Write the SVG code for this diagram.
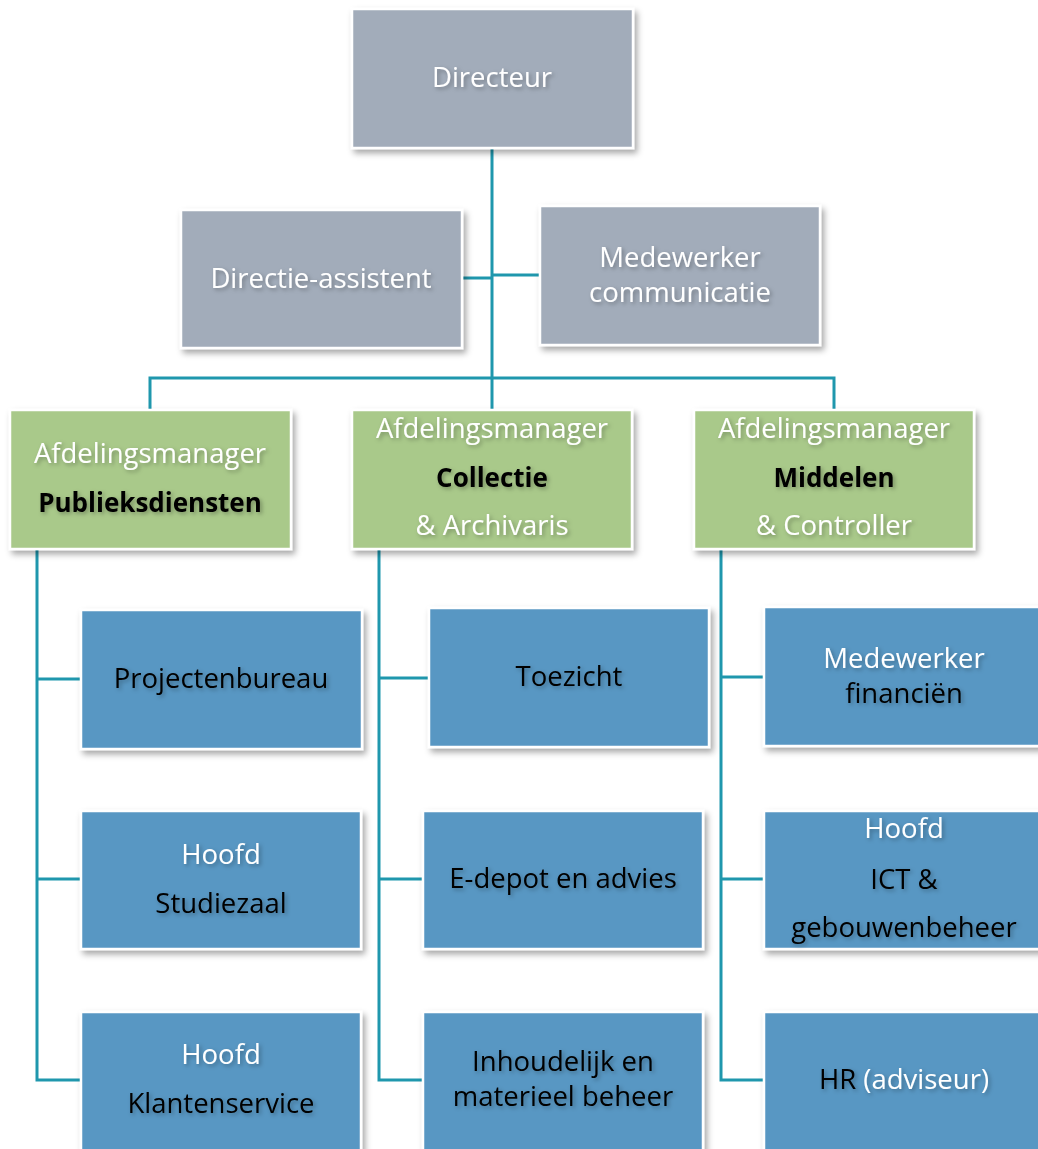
<svg xmlns="http://www.w3.org/2000/svg" width="1038" height="1149" viewBox="0 0 1038 1149">
<style>
.box{stroke:#ffffff;stroke-width:2.5;filter:url(#sh)}
.gray{fill:#a2acba}
.green{fill:#a9c98a}
.blue{fill:#5997c3}
text{font-family:"Open Sans","Liberation Sans",sans-serif;font-size:27.5px;text-anchor:middle;filter:url(#tsh)}
.w{fill:#ffffff}
.k{fill:#000000}
.b{font-weight:bold;font-size:26px}
.ln{stroke:#1f97ad;stroke-width:3;fill:none}
</style>
<defs>
<filter id="sh" x="-10%" y="-10%" width="125%" height="130%">
<feDropShadow dx="3" dy="4" stdDeviation="3" flood-color="#000" flood-opacity="0.35"/>
</filter>
<filter id="tsh" x="-10%" y="-30%" width="125%" height="170%">
<feDropShadow dx="2" dy="2" stdDeviation="2" flood-color="#000" flood-opacity="0.3"/>
</filter>
</defs>
<rect width="1038" height="1149" fill="#ffffff"/>
<g id="connectors">
<path class="ln" d="M492 148 V378"/>
<path class="ln" d="M463 278 H492"/>
<path class="ln" d="M492 275 H540"/>
<path class="ln" d="M150 410 V378 H834 V410"/>
<path class="ln" d="M492 378 V410"/>
<path class="ln" d="M37 549 V1080 H81"/>
<path class="ln" d="M37 679 H81 M37 879 H81"/>
<path class="ln" d="M379 549 V1080 H423"/>
<path class="ln" d="M379 678 H429 M379 879 H423"/>
<path class="ln" d="M721 549 V1080 H764"/>
<path class="ln" d="M721 677 H764 M721 879 H764"/>
</g>
<g id="directeur">
<rect class="box gray" x="352" y="9" width="281" height="139"/>
<text class="w" x="492" y="87">Directeur</text>
</g>
<g id="directie-assistent">
<rect class="box gray" x="181" y="210" width="281" height="138"/>
<text class="w" x="321" y="288">Directie-assistent</text>
</g>
<g id="medewerker-communicatie">
<rect class="box gray" x="540" y="206" width="280" height="139"/>
<text class="w" x="680" y="267">Medewerker</text>
<text class="w" x="680" y="302">communicatie</text>
</g>
<g id="am-publieksdiensten">
<rect class="box green" x="10" y="410" width="281" height="139"/>
<text class="w" x="150" y="463">Afdelingsmanager</text>
<text class="k b" x="150" y="512">Publieksdiensten</text>
</g>
<g id="am-collectie">
<rect class="box green" x="352" y="410" width="280" height="139"/>
<text class="w" x="492" y="438">Afdelingsmanager</text>
<text class="k b" x="492" y="487">Collectie</text>
<text class="w" x="492" y="535">&amp; Archivaris</text>
</g>
<g id="am-middelen">
<rect class="box green" x="694" y="410" width="280" height="139"/>
<text class="w" x="834" y="438">Afdelingsmanager</text>
<text class="k b" x="834" y="487">Middelen</text>
<text class="w" x="834" y="535">&amp; Controller</text>
</g>
<g id="projectenbureau">
<rect class="box blue" x="81" y="610" width="281" height="139"/>
<text class="k" x="221" y="688">Projectenbureau</text>
</g>
<g id="hoofd-studiezaal">
<rect class="box blue" x="81" y="811" width="280" height="138"/>
<text class="w" x="221" y="864">Hoofd</text>
<text class="k" x="221" y="913">Studiezaal</text>
</g>
<g id="hoofd-klantenservice">
<rect class="box blue" x="81" y="1012" width="280" height="150"/>
<text class="w" x="221" y="1064">Hoofd</text>
<text class="k" x="221" y="1113">Klantenservice</text>
</g>
<g id="toezicht">
<rect class="box blue" x="429" y="608" width="280" height="139"/>
<text class="k" x="569" y="686">Toezicht</text>
</g>
<g id="e-depot">
<rect class="box blue" x="423" y="811" width="280" height="138"/>
<text class="k" x="563" y="888">E-depot en advies</text>
</g>
<g id="inhoudelijk-beheer">
<rect class="box blue" x="423" y="1012" width="280" height="150"/>
<text class="k" x="563" y="1071">Inhoudelijk en</text>
<text class="k" x="563" y="1106">materieel beheer</text>
</g>
<g id="medewerker-financien">
<rect class="box blue" x="764" y="607" width="281" height="139"/>
<text class="w" x="904" y="668">Medewerker</text>
<text class="k" x="904" y="703">financiën</text>
</g>
<g id="hoofd-ict">
<rect class="box blue" x="764" y="811" width="281" height="138"/>
<text class="w" x="904" y="838">Hoofd</text>
<text class="k" x="904" y="889">ICT &amp;</text>
<text class="k" x="904" y="937">gebouwenbeheer</text>
</g>
<g id="hr">
<rect class="box blue" x="764" y="1012" width="281" height="150"/>
<text x="904" y="1089"><tspan class="k">HR</tspan> <tspan class="w">(adviseur)</tspan></text>
</g>
</svg>
